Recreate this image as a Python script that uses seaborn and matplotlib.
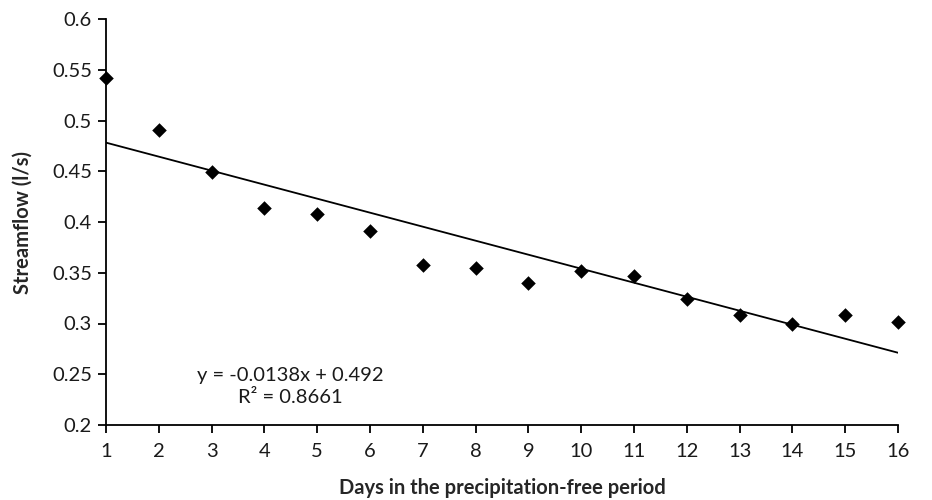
import numpy as np
import pandas as pd
import matplotlib
matplotlib.use("Agg")
import matplotlib.pyplot as plt
import seaborn as sns

# Data
days = [1, 2, 3, 4, 5, 6, 7, 8, 9, 10, 11, 12, 13, 14, 15, 16]
streamflow = [0.542, 0.491, 0.449, 0.414, 0.408, 0.391, 0.358, 0.355,
              0.340, 0.352, 0.347, 0.324, 0.308, 0.300, 0.308, 0.301]
slope = -0.0138
intercept = 0.492
r_squared = 0.8661

df = pd.DataFrame({"day": days, "flow": streamflow})
trend = pd.DataFrame({"day": [days[0], days[-1]]})
trend["flow"] = slope * trend["day"] + intercept

sns.set_style("ticks")
plt.rcParams['font.family'] = ['Lato', 'DejaVu Sans']

fig = plt.figure(figsize=(9.32, 5), dpi=100)
ax = fig.add_axes([0.1137, 0.15, 0.8498, 0.812])

sns.lineplot(data=trend, x="day", y="flow", color="black", linewidth=1.3, ax=ax)
sns.scatterplot(data=df, x="day", y="flow", marker="D", s=55, color="black",
                edgecolor="black", linewidth=0, ax=ax, zorder=3, clip_on=False)

ax.set_xlim(1, 16)
ax.set_ylim(0.2, 0.6)
ax.set_xticks(days)
ax.set_yticks(np.arange(0.2, 0.601, 0.05))
ax.set_yticklabels(["0.2", "0.25", "0.3", "0.35", "0.4", "0.45", "0.5", "0.55", "0.6"])
ax.tick_params(axis="both", labelsize=14.5, length=6, width=1.3, color="black",
               labelcolor="#1a1a1a", pad=4)
ax.xaxis.set_tick_params(pad=7)

for side in ["top", "right"]:
    ax.spines[side].set_visible(False)
for side in ["left", "bottom"]:
    ax.spines[side].set_linewidth(1.3)
    ax.spines[side].set_color("black")

ax.set_xlabel("Days in the precipitation-free period", fontsize=14.5, fontweight="bold", labelpad=13)
ax.set_ylabel("Streamflow (l/s)", fontsize=14.5, fontweight="bold", labelpad=14)

ax.text(4.49, 0.238, f"y = {slope}x + {intercept}\nR² = {r_squared}",
        ha="center", va="center", fontsize=14.5, linespacing=1.4, color="#1a1a1a")

fig.savefig("out.png", dpi=100)
